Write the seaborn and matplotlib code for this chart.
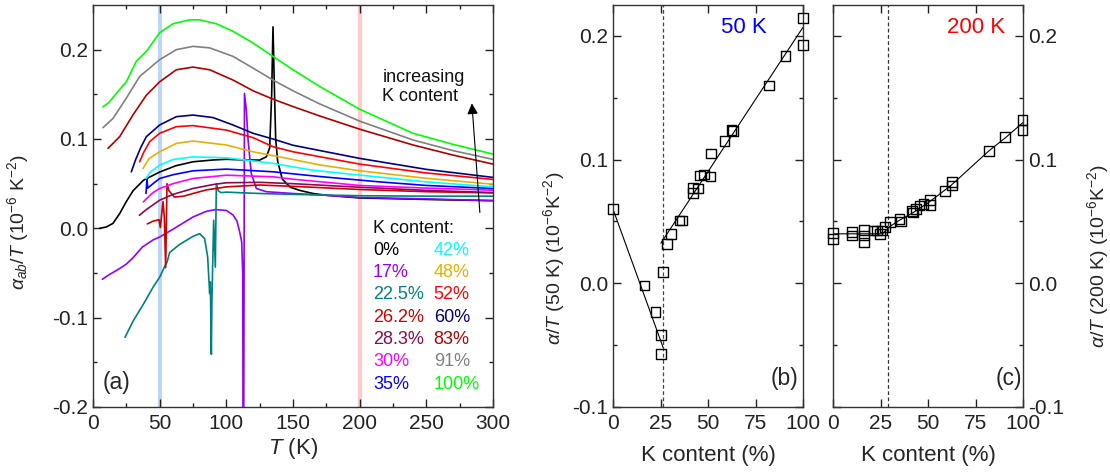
import numpy as np
import pandas as pd
import matplotlib
matplotlib.use("Agg")
import matplotlib.pyplot as plt
import seaborn as sns

# ---------------- data: panel (a) ----------------
labels = ["0%", "17%", "22.5%", "26.2%", "28.3%", "30%", "35%",
          "42%", "48%", "52%", "60%", "83%", "91%", "100%"]
colors = ["#000000", "#8F00FF", "#008080", "#CC0000", "#8B0A50", "#FF00FF", "#0000FF",
          "#00FFFF", "#E6B000", "#FF0000", "#000080", "#B00000", "#808080", "#00FF00"]

T_0 = [5, 10, 15, 20, 25, 30, 38, 50, 62, 75, 90, 100, 115, 125, 130, 132.5, 134, 135, 136, 137, 138.5, 142, 148, 155, 165, 175, 200, 230, 260, 300]
v_0 = [0.0, 0.0015, 0.0056, 0.0165, 0.030, 0.042, 0.054, 0.063, 0.070, 0.0745, 0.0765, 0.0773, 0.0765, 0.0764, 0.080, 0.090, 0.150, 0.2255, 0.16, 0.10, 0.075, 0.055, 0.046, 0.0425, 0.039, 0.037, 0.034, 0.033, 0.032, 0.031]

T_17 = [7, 12, 20, 25, 30, 37, 45, 50, 60, 75, 85, 92, 100, 105, 108, 110, 111.5, 112.3, 112.6, 113.0, 113.6, 115, 116.3, 118.7, 122.5, 130, 150, 175, 200, 250, 300]
v_17 = [-0.057, -0.052, -0.045, -0.040, -0.033, -0.021, -0.013, -0.0097, -0.001, 0.0127, 0.019, 0.021, 0.020, 0.015, 0.008, -0.004, -0.015, -0.05, -0.25, -0.25, 0.151, 0.1326, 0.099, 0.0614, 0.0446, 0.041, 0.039, 0.037, 0.0345, 0.033, 0.031]

T_22 = [24, 30, 37.75, 45, 50, 54, 55.5, 57.5, 65, 70, 75, 80, 83.75, 86, 87.5, 88, 88.75, 89.2, 90.5, 91.75, 92.5, 94, 96, 100, 125, 150, 200, 250, 300]
v_22 = [-0.122, -0.104, -0.085, -0.066, -0.0547, -0.042, -0.038, -0.027, -0.018, -0.0135, -0.009, -0.006, -0.0116, -0.032, -0.073, -0.060, -0.141, -0.08, 0.009, -0.0435, 0.050, 0.042, 0.040, 0.0405, 0.039, 0.038, 0.0365, 0.036, 0.036]

T_26 = [40.75, 45, 49.5, 50.5, 52.5, 53.5, 54.5, 55.5, 57, 61, 68, 75, 85, 100, 125, 150, 200, 250, 300]
v_26 = [0.005, 0.008, 0.0097, 0.001, 0.030, 0.012, -0.044, 0.050, 0.042, 0.035, 0.036, 0.039, 0.043, 0.0464, 0.0485, 0.047, 0.0435, 0.041, 0.0397]

T_28 = [34.8, 40, 50, 60, 75, 90, 100, 125, 150, 200, 250, 300]
v_28 = [0.0146, 0.021, 0.0315, 0.038, 0.0446, 0.049, 0.051, 0.0515, 0.050, 0.046, 0.0425, 0.040]

T_30 = [37.75, 40, 45, 50, 60, 75, 100, 135, 150, 200, 250, 300]
v_30 = [0.0296, 0.033, 0.040, 0.0446, 0.050, 0.0558, 0.0595, 0.0577, 0.055, 0.048, 0.045, 0.0427]

T_35 = [39.75, 40.5, 41, 45, 50, 60, 75, 100, 135, 170, 215, 250, 300]
v_35 = [0.039, 0.055, 0.045, 0.050, 0.0558, 0.060, 0.0644, 0.0663, 0.0633, 0.058, 0.052, 0.048, 0.0446]

T_42 = [39.75, 43, 50, 60, 75, 100, 135, 165, 200, 250, 300]
v_42 = [0.0558, 0.063, 0.0708, 0.077, 0.080, 0.079, 0.0727, 0.065, 0.0596, 0.052, 0.0464]

T_48 = [37.5, 42, 50, 62.5, 75, 100, 120, 140, 170, 200, 250, 300]
v_48 = [0.067, 0.078, 0.0857, 0.0951, 0.0977, 0.0933, 0.0857, 0.080, 0.071, 0.0644, 0.056, 0.0494]

T_52 = [35, 38, 42.5, 50, 62.5, 75, 100, 120, 135, 150, 200, 250, 300]
v_52 = [0.0745, 0.085, 0.097, 0.1064, 0.1138, 0.115, 0.110, 0.1015, 0.0914, 0.0857, 0.0719, 0.062, 0.0547]

T_60 = [28.75, 32, 36, 40, 50, 62.5, 75, 90, 105, 120, 135, 150, 200, 250, 300]
v_60 = [0.0633, 0.077, 0.091, 0.1026, 0.1157, 0.125, 0.1268, 0.124, 0.1157, 0.1064, 0.100, 0.093, 0.0783, 0.066, 0.057]

T_83 = [11.25, 20, 30, 40, 50, 62.5, 75, 87.5, 105, 120, 135, 150, 170, 200, 240, 270, 300]
v_83 = [0.0895, 0.1026, 0.127, 0.149, 0.164, 0.1775, 0.1805, 0.1775, 0.166, 0.154, 0.1446, 0.1363, 0.1258, 0.111, 0.0933, 0.082, 0.0719]

T_91 = [7.5, 15, 25, 35, 50, 62.5, 75, 87.5, 105, 120, 135, 150, 170, 200, 240, 270, 300]
v_91 = [0.1127, 0.123, 0.1457, 0.170, 0.1888, 0.200, 0.2037, 0.202, 0.1925, 0.1794, 0.166, 0.154, 0.1393, 0.120, 0.0989, 0.087, 0.0772]

T_100 = [7.5, 12, 17.5, 25, 32.5, 40, 50, 60, 72.5, 80, 92.5, 105, 120, 135, 150, 170, 200, 240, 270, 300]
v_100 = [0.136, 0.141, 0.151, 0.164, 0.187, 0.198, 0.219, 0.229, 0.2334, 0.2334, 0.229, 0.2206, 0.2075, 0.1925, 0.1775, 0.1588, 0.1333, 0.1064, 0.094, 0.0831]

curves_T = [T_0, T_17, T_22, T_26, T_28, T_30, T_35, T_42, T_48, T_52, T_60, T_83, T_91, T_100]
curves_v = [v_0, v_17, v_22, v_26, v_28, v_30, v_35, v_42, v_48, v_52, v_60, v_83, v_91, v_100]

# ---------------- data: panel (b) 50 K ----------------
K_b = [0, 16.6, 22.4, 25.2, 25.2, 26.4, 28.3, 30.4, 35, 36.4, 42, 42, 44.8, 45.8, 47.9, 51.4, 51.7, 58.7, 62.4, 63, 82.2, 90.7, 100, 100]
a_b = [0.060, -0.0019, -0.023, -0.042, -0.057, 0.0089, 0.0316, 0.040, 0.0508, 0.0508, 0.0773, 0.073, 0.0765, 0.0873, 0.088, 0.0865, 0.105, 0.115, 0.1238, 0.123, 0.160, 0.184, 0.2146, 0.1927]
fitL_K = [0, 26.4]
fitL_a = [0.060, -0.052]
fitR_K = [25.2, 100]
fitR_a = [0.0324, 0.207]
xc_b = 26.2

# ---------------- data: panel (c) 200 K ----------------
K_c = [0, 0, 10, 10, 16.4, 16.4, 16.4, 21.3, 23.1, 24.8, 25.7, 27.4, 30, 35, 35.7, 41.6, 42, 43.7, 45.5, 47.6, 51, 51.4, 59, 62.6, 62.6, 82.2, 90.6, 99.7, 99.7]
a_c = [0.0405, 0.0357, 0.0414, 0.0386, 0.0432, 0.0386, 0.033, 0.0427, 0.0427, 0.040, 0.0427, 0.0454, 0.0495, 0.052, 0.050, 0.0584, 0.0573, 0.060, 0.063, 0.0643, 0.0676, 0.0635, 0.0746, 0.0819, 0.079, 0.107, 0.1184, 0.132, 0.124]
fitc_K = [0, 26, 30, 35, 42, 50, 62, 82, 91, 100]
fitc_a = [0.040, 0.040, 0.046, 0.051, 0.057, 0.065, 0.079, 0.107, 0.118, 0.130]
xc_c = 28.7

# ---------------- style ----------------
sns.set_theme(style="ticks")
plt.rcParams["font.family"] = ["Liberation Sans", "DejaVu Sans"]
plt.rcParams["mathtext.fontset"] = "custom"
plt.rcParams["mathtext.rm"] = "Liberation Sans"
plt.rcParams["mathtext.it"] = "Liberation Sans:italic"
plt.rcParams["mathtext.bf"] = "Liberation Sans:bold"
plt.rcParams["axes.linewidth"] = 1.0
plt.rcParams["axes.edgecolor"] = "#333333"

FS_TICK = 15
FS_LAB = 16
FS_YLAB = 14
FS_LEG = 13

fig = plt.figure(figsize=(11.10, 4.74), dpi=100)
axA = fig.add_axes([93/1110, 1-407/474, 400/1110, 402/474])
axB = fig.add_axes([613/1110, 1-407/474, 190/1110, 402/474])
axC = fig.add_axes([833/1110, 1-407/474, 190/1110, 402/474])

def style_ax(ax):
    ax.tick_params(which="both", direction="in", top=True, right=True,
                   labelsize=FS_TICK, colors="#222222")
    ax.tick_params(which="major", length=6, width=1)
    ax.tick_params(which="minor", length=3, width=1)
    ax.tick_params(axis="x", which="major", pad=5)
    for s in ax.spines.values():
        s.set_color("#333333")

# ---- panel (a) ----
axA.axvline(50, color="#BBD7F5", lw=3, zorder=0)
axA.axvline(200, color="#FFCACA", lw=3, zorder=0)
rows = []
for lab, Ts, vs in zip(labels, curves_T, curves_v):
    for t, v in zip(Ts, vs):
        rows.append((lab, t, v))
dfA = pd.DataFrame(rows, columns=["K", "T", "v"])
sns.lineplot(data=dfA, x="T", y="v", hue="K", palette=dict(zip(labels, colors)),
             hue_order=labels, estimator=None, sort=False, lw=1.2, legend=False, ax=axA)
axA.set_xlim(0, 300)
axA.set_ylim(-0.2, 0.25)
axA.set_xticks([0, 50, 100, 150, 200, 250, 300])
axA.set_xticks(np.arange(25, 300, 50), minor=True)
axA.set_yticks([-0.2, -0.1, 0.0, 0.1, 0.2])
axA.set_yticklabels(["-0.2", "-0.1", "0.0", "0.1", "0.2"])
axA.set_yticks([-0.15, -0.05, 0.05, 0.15], minor=True)
style_ax(axA)
axA.set_xlabel(r"$T$ (K)", fontsize=FS_LAB, labelpad=2)
axA.set_ylabel(r"$\alpha_{ab}/T$ (10$^{-6}$ K$^{-2}$)", fontsize=FS_YLAB)
axA.yaxis.set_label_coords(-0.155, 0.46)
axA.text(0.025, 0.045, "(a)", transform=axA.transAxes, fontsize=16.5)

# legend as colored text
axA.text(210, 0.0, "K content:", fontsize=FS_LEG, va="center", color="#111111")
for i, (lab, col) in enumerate(zip(labels, colors)):
    col_i = i // 7
    row_i = i % 7
    x = 210 if col_i == 0 else 255.5
    y = -0.0245 - 0.025 * row_i
    axA.text(x, y, lab, fontsize=FS_LEG, va="center", color=col)

axA.annotate("", xy=(284, 0.143), xytext=(290.3, 0.0146),
             arrowprops=dict(arrowstyle="-|>", color="black", lw=0.8,
                             mutation_scale=16))
axA.text(217, 0.158, "increasing\nK content", fontsize=FS_LEG, va="center",
         ha="left", color="#111111", linespacing=1.15)

# ---- panel (b) ----
axB.axvline(xc_b, color="#444444", lw=0.9, ls=(0, (3, 2)), zorder=0)
sns.lineplot(x=fitL_K, y=fitL_a, color="black", lw=0.8, ax=axB)
sns.lineplot(x=fitR_K, y=fitR_a, color="black", lw=0.8, ax=axB)
sns.scatterplot(x=K_b, y=a_b, marker="s", s=48, facecolor="none",
                edgecolor="black", linewidth=1.0, ax=axB, zorder=3, clip_on=False)
axB.set_xlim(0, 100)
axB.set_ylim(-0.1, 0.225)
axB.set_xticks([0, 25, 50, 75, 100])
axB.set_yticks([-0.1, 0.0, 0.1, 0.2])
axB.set_yticklabels(["-0.1", "0.0", "0.1", "0.2"])
axB.set_yticks([-0.05, 0.05, 0.15], minor=True)
style_ax(axB)
axB.set_xlabel("K content (%)", fontsize=FS_LAB, labelpad=9)
axB.set_ylabel(r"$\alpha/T$ (50 K) (10$^{-6}$K$^{-2}$)", fontsize=FS_YLAB)
axB.yaxis.set_label_coords(-0.24, 0.37)
axB.text(0.57, 0.943, "50 K", transform=axB.transAxes, fontsize=16,
         color="#0000FF", va="center")
axB.text(0.83, 0.055, "(b)", transform=axB.transAxes, fontsize=16.5)

# ---- panel (c) ----
axC.axvline(xc_c, color="#333333", lw=0.9, ls=(0, (3, 2)), zorder=0)
sns.lineplot(x=fitc_K, y=fitc_a, color="black", lw=0.8, ax=axC)
sns.scatterplot(x=K_c, y=a_c, marker="s", s=48, facecolor="none",
                edgecolor="black", linewidth=1.0, ax=axC, zorder=3, clip_on=False)
axC.set_xlim(0, 100)
axC.set_ylim(-0.1, 0.225)
axC.set_xticks([0, 25, 50, 75, 100])
axC.set_yticks([-0.1, 0.0, 0.1, 0.2])
axC.set_yticklabels(["-0.1", "0.0", "0.1", "0.2"])
axC.set_yticks([-0.05, 0.05, 0.15], minor=True)
style_ax(axC)
axC.tick_params(labelleft=False, labelright=True)
axC.yaxis.set_label_position("right")
axC.set_xlabel("K content (%)", fontsize=FS_LAB, labelpad=9)
axC.set_ylabel(r"$\alpha/T$ (200 K) (10$^{-6}$K$^{-2}$)", fontsize=FS_YLAB)
axC.yaxis.set_label_coords(1.325, 0.375)
axC.text(0.60, 0.943, "200 K", transform=axC.transAxes, fontsize=16,
         color="#FF0000", va="center")
axC.text(0.855, 0.055, "(c)", transform=axC.transAxes, fontsize=16.5)

fig.savefig("out.png", dpi=100)
